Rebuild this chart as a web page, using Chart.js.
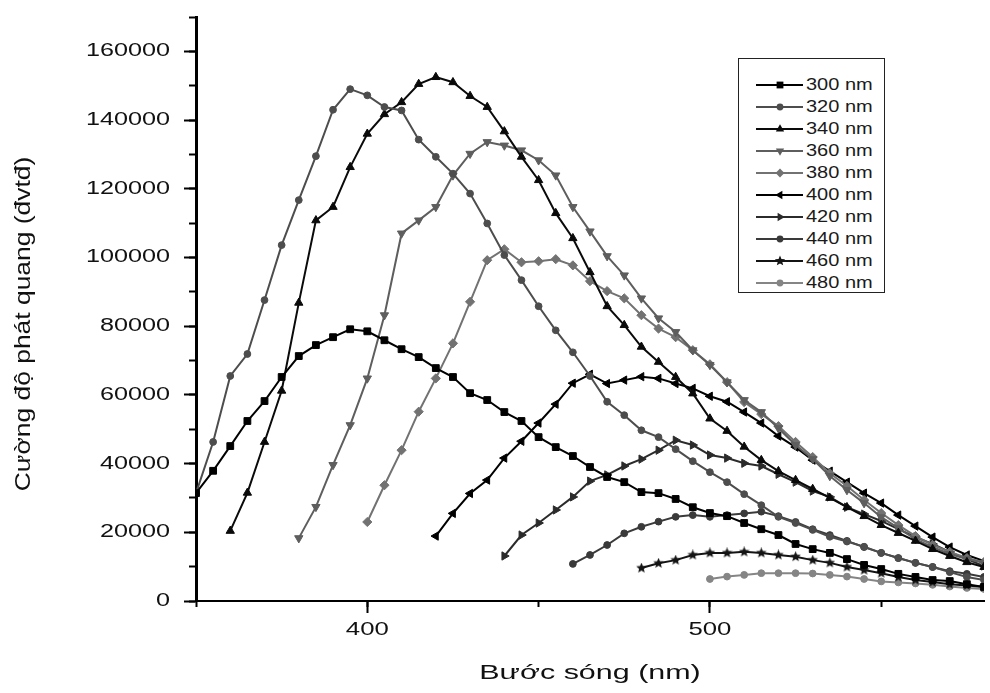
<!DOCTYPE html>
<html>
<head>
<meta charset="utf-8">
<script src="https://cdn.jsdelivr.net/npm/chart.js@4.4.1/dist/chart.umd.min.js"></script>
<style>
html,body{margin:0;padding:0;background:#fff;}
#wrap{position:relative;width:990px;height:693px;overflow:hidden;}
#c{position:absolute;left:0;top:0;}
#legendBox{position:absolute;left:738px;top:58px;width:147px;height:235px;border:1.5px solid #222;box-sizing:border-box;background:#fff;}
.lrow{position:absolute;height:20px;line-height:20px;font-family:"Liberation Sans",Arial,Helvetica,sans-serif;font-size:16px;color:#1a1a1a;white-space:nowrap;transform:scaleX(1.25);transform-origin:0 50%;}
.lsvg{position:absolute;}
</style>
</head>
<body>
<div id="wrap">
  <canvas id="c" width="990" height="693"></canvas>
  <div id="legendBox"></div>
</div>
<script>
// ---------------- data ----------------
const wavelengths = [350,355,360,365,370,375,380,385,390,395,400,405,410,415,420,425,430,435,440,445,450,455,460,465,470,475,480,485,490,495,500,505,510,515,520,525,530,535,540,545,550,555,560,565,570,575,580];

const seriesLabels = ['300 nm','320 nm','340 nm','360 nm','380 nm','400 nm','420 nm','440 nm','460 nm','480 nm'];

const s300 = [31400,37900,45100,52400,58200,65200,71300,74500,76800,79100,78500,75900,73300,71000,67800,65200,60500,58500,55000,52400,47700,44800,42200,39000,36100,34600,31700,31400,29700,27300,25600,24700,22700,20900,19200,16600,15100,14000,12200,10500,9300,7900,7000,6100,5800,4900,4100];
const s320 = [31400,46300,65500,71900,87600,103600,116700,129500,143000,149000,147200,143800,142800,134300,129300,124400,118600,109900,100700,93400,85800,78800,72400,65500,58000,54100,49700,47700,44200,40700,37500,34600,31100,27900,24500,22700,20700,18700,17300,15800,14000,12500,11100,9900,8400,7000,6100];
const s340 = [null,null,20400,31500,46300,61200,86800,110800,114700,126300,136000,141700,145200,150500,152500,151000,147000,143800,136700,129300,122500,112900,105600,95700,85800,80300,74000,69600,65200,60400,53100,49500,44900,41000,37800,35200,32600,30000,27300,24700,22100,19800,17500,15100,13100,11300,9900];
const s360 = [null,null,null,null,null,null,18300,27400,39600,51200,64800,83200,107000,110800,114700,123900,130200,133600,132600,131200,128300,123900,114700,107600,100400,94800,88100,82300,78300,73000,68700,63700,58500,55000,50300,45400,41300,36400,32300,28500,24400,21200,18000,15700,13700,12200,11100];
const s380 = [null,null,null,null,null,null,null,null,null,null,23000,33700,43900,55100,64800,75000,87100,99200,102400,98600,98900,99500,97700,93100,90200,88100,83200,79300,76800,73000,68900,63700,57900,54400,50900,46300,41900,37200,33500,29400,25600,22100,18900,16300,14300,12500,11300];
const s400 = [null,null,null,null,null,null,null,null,null,null,null,null,null,null,18900,25500,31300,35200,41600,46500,51800,57300,63400,66000,63300,64300,65300,64800,63300,61900,59600,58000,55000,51800,48000,44800,41000,37800,34600,31400,28500,25000,21800,18600,15700,13400,11600];
const s420 = [null,null,null,null,null,null,null,null,null,null,null,null,null,null,null,null,null,null,13100,19200,22700,26500,30300,34900,36700,39300,41300,43900,46800,45400,42500,41600,40100,39300,36900,34600,32000,30300,27300,25300,23300,20900,18600,16600,14300,12200,10200];
const s440 = [null,null,null,null,null,null,null,null,null,null,null,null,null,null,null,null,null,null,null,null,null,null,10800,13400,16300,19700,21600,23100,24500,25000,24500,25000,25500,26000,24700,23000,20900,19200,17500,15700,14000,12500,11100,9900,8700,7900,7000];
const s460 = [null,null,null,null,null,null,null,null,null,null,null,null,null,null,null,null,null,null,null,null,null,null,null,null,null,null,9600,11000,11900,13400,14000,14000,14300,14000,13400,12900,11900,11100,9900,9000,8100,7000,6100,5500,4900,4500,4100];
const s480 = [null,null,null,null,null,null,null,null,null,null,null,null,null,null,null,null,null,null,null,null,null,null,null,null,null,null,null,null,null,null,6400,7100,7600,8100,8100,8100,8000,7600,7100,6400,5700,5400,5100,4700,4200,3800,3500];

const seriesValues = [s300,s320,s340,s360,s380,s400,s420,s440,s460,s480];

const xMajorTicks = [400,500];
const xMinorTicks = [350,400,450,500,550];
const yMajorTicks = [0,20000,40000,60000,80000,100000,120000,140000,160000];
const yMinorTicks = [0,10000,20000,30000,40000,50000,60000,70000,80000,90000,100000,110000,120000,130000,140000,150000,160000,170000];

// ---------------- styles ----------------
const FAMILY = '"Liberation Sans", Arial, Helvetica, sans-serif';
const seriesColors = ['#000000','#4d4d4d','#0a0a0a','#5e5e5e','#727272','#000000','#2b2b2b','#3a3a3a','#141414','#858585'];
const seriesShapes = ['rect','circle','triUp','triDown','diamond','triLeft','triRight','circle','star','circle'];

function starCanvas(color, size){
  const c = document.createElement('canvas');
  c.width = size; c.height = size;
  const g = c.getContext('2d');
  g.fillStyle = color;
  g.beginPath();
  const R = size/2, r = R*0.45;
  for (let i = 0; i < 10; i++){
    const a = -Math.PI/2 + i*Math.PI/5;
    const rr = (i % 2) ? r : R;
    g.lineTo(R + rr*Math.cos(a), R + rr*Math.sin(a));
  }
  g.closePath(); g.fill();
  return c;
}

function pointStyleFor(shape, color){
  switch(shape){
    case 'rect': return {pointStyle:'rect', rotation:0, radius:4.8};
    case 'circle': return {pointStyle:'circle', rotation:0, radius:3.4};
    case 'triUp': return {pointStyle:'triangle', rotation:0, radius:4.8};
    case 'triDown': return {pointStyle:'triangle', rotation:180, radius:4.8};
    case 'triLeft': return {pointStyle:'triangle', rotation:270, radius:4.8};
    case 'triRight': return {pointStyle:'triangle', rotation:90, radius:4.8};
    case 'diamond': return {pointStyle:'rectRot', rotation:0, radius:4.6};
    case 'star': return {pointStyle:starCanvas(color, 11), rotation:0, radius:5};
  }
}

const datasets = seriesValues.map((vals, k) => {
  const ps = pointStyleFor(seriesShapes[k], seriesColors[k]);
  return {
    label: seriesLabels[k],
    data: wavelengths.map((w, i) => ({x: w, y: vals[i]})).filter(p => p.y !== null),
    borderColor: seriesColors[k],
    backgroundColor: seriesColors[k],
    pointBackgroundColor: seriesColors[k],
    pointBorderColor: seriesColors[k],
    borderWidth: 2,
    pointStyle: ps.pointStyle,
    pointRotation: ps.rotation,
    pointRadius: ps.radius,
    pointBorderWidth: 1,
    tension: 0,
    fill: false
  };
});

// horizontally stretched text for axis labels/titles (scaled about each text anchor)
function wrapStretch(obj, name, sx, dy){
  const orig = obj[name];
  obj[name] = function(...args){
    const c = this.ctx;
    const protoFill = CanvasRenderingContext2D.prototype.fillText;
    c.fillText = function(t, x, y){
      this.save(); this.translate(x, y); this.scale(sx, 1);
      protoFill.call(this, t, 0, 0);
      this.restore();
    };
    c.save();
    if (dy) c.translate(0, dy);
    let r;
    try { r = orig.apply(this, args); }
    finally { c.restore(); delete c.fillText; }
    return r;
  };
}
const stretchPlugin = {
  id: 'stretch',
  beforeDraw(chart){
    if (chart.$stretchPatched) return;
    chart.$stretchPatched = true;
    wrapStretch(chart.scales.y, 'drawLabels', 1.4, 0);
    wrapStretch(chart.scales.y, 'drawTitle', 1.2, 15);
    wrapStretch(chart.scales.x, 'drawLabels', 1.43, 0);
    wrapStretch(chart.scales.x, 'drawTitle', 1.45, 0);
  }
};

new Chart(document.getElementById('c'), {
  type: 'line',
  data: { datasets },
  plugins: [stretchPlugin],
  options: {
    responsive: false,
    animation: false,
    devicePixelRatio: 1,
    events: [],
    layout: { padding: { top: 17, right: 0, bottom: 0, left: 0 } },
    plugins: { legend: { display: false }, tooltip: { enabled: false } },
    scales: {
      x: {
        type: 'linear', position: 'bottom', min: 350, max: 580, weight: 1,
        afterBuildTicks: s => { s.ticks = xMajorTicks.map(v => ({value: v})); },
        afterFit: s => { s.height = 92; s.paddingLeft = 0; s.paddingRight = 0; },
        grid: { display: true, drawOnChartArea: false, drawTicks: true, tickLength: 12, tickWidth: 2, tickColor: '#000' },
        border: { display: true, color: '#000', width: 2 },
        ticks: { font: { family: FAMILY, size: 18 }, color: '#111', padding: 6, maxRotation: 0, autoSkip: false, callback: v => String(v) },
        title: { display: true, text: 'Bước sóng (nm)', font: { family: FAMILY, size: 21 }, color: '#111', padding: { top: 0, bottom: 7 } }
      },
      x2: {
        type: 'linear', position: 'bottom', min: 350, max: 580, weight: 0,
        afterBuildTicks: s => { s.ticks = xMinorTicks.map(v => ({value: v})); },
        afterFit: s => { s.height = 0; s.paddingLeft = 0; s.paddingRight = 0; },
        grid: { display: true, drawOnChartArea: false, drawTicks: true, tickLength: 6, tickWidth: 2, tickColor: '#000' },
        border: { display: false },
        ticks: { display: false }
      },
      y: {
        type: 'linear', position: 'left', min: 0, max: 170000, weight: 1,
        afterBuildTicks: s => { s.ticks = yMajorTicks.map(v => ({value: v})); },
        afterFit: s => { s.width = 196; s.paddingTop = 0; s.paddingBottom = 0; },
        grid: { display: true, drawOnChartArea: false, drawTicks: true, tickLength: 12, tickWidth: 2, tickColor: '#000' },
        border: { display: true, color: '#000', width: 3 },
        ticks: { font: { family: FAMILY, size: 18 }, color: '#111', padding: 14, autoSkip: false, callback: v => String(v) },
        title: { display: true, text: 'Cường độ phát quang (đvtđ)', font: { family: FAMILY, size: 22 }, color: '#111', padding: { top: 11, bottom: 0 } }
      },
      y2: {
        type: 'linear', position: 'left', min: 0, max: 170000, weight: 0,
        afterBuildTicks: s => { s.ticks = yMinorTicks.map(v => ({value: v})); },
        afterFit: s => { s.width = 0; s.paddingTop = 0; s.paddingBottom = 0; },
        grid: { display: true, drawOnChartArea: false, drawTicks: true, tickLength: 7, tickWidth: 2, tickColor: '#000' },
        border: { display: false },
        ticks: { display: false }
      }
    }
  }
});

// ---------------- HTML legend ----------------
function shapeSvg(shape, cx, cy, color){
  const poly = pts => `<polygon points="${pts.map(p => (cx+p[0]).toFixed(2)+','+(cy+p[1]).toFixed(2)).join(' ')}" fill="${color}"/>`;
  const tri = (r, rotDeg) => {
    const pts = [];
    for (let i = 0; i < 3; i++){
      const a = (rotDeg - 90 + i*120) * Math.PI/180;
      pts.push([r*Math.cos(a), r*Math.sin(a)]);
    }
    return poly(pts);
  };
  switch(shape){
    case 'rect': return `<rect x="${cx-3.4}" y="${cy-3.4}" width="6.8" height="6.8" fill="${color}"/>`;
    case 'circle': return `<circle cx="${cx}" cy="${cy}" r="3.4" fill="${color}"/>`;
    case 'triUp': return tri(4.8, 0);
    case 'triDown': return tri(4.8, 180);
    case 'triLeft': return tri(4.8, 270);
    case 'triRight': return tri(4.8, 90);
    case 'diamond': return poly([[0,-4.4],[4.4,0],[0,4.4],[-4.4,0]]);
    case 'star': {
      const pts = [];
      for (let i = 0; i < 10; i++){
        const a = -Math.PI/2 + i*Math.PI/5; const rr = (i % 2) ? 2.4 : 5.4;
        pts.push([rr*Math.cos(a), rr*Math.sin(a)]);
      }
      return poly(pts);
    }
  }
  return '';
}

const wrapEl = document.getElementById('wrap');
seriesLabels.forEach((lab, i) => {
  const cy = 85 + 22*i;
  const svg = document.createElementNS('http://www.w3.org/2000/svg', 'svg');
  svg.setAttribute('class', 'lsvg');
  svg.setAttribute('width', '52');
  svg.setAttribute('height', '14');
  svg.style.left = '754px';
  svg.style.top = (cy - 7) + 'px';
  svg.innerHTML = `<line x1="2" y1="7" x2="49" y2="7" stroke="${seriesColors[i]}" stroke-width="2"/>` + shapeSvg(seriesShapes[i], 26, 7, seriesColors[i]);
  wrapEl.appendChild(svg);
  const t = document.createElement('div');
  t.className = 'lrow';
  t.style.left = '806px';
  t.style.top = (cy - 10) + 'px';
  t.textContent = lab;
  wrapEl.appendChild(t);
});
</script>
</body>
</html>
